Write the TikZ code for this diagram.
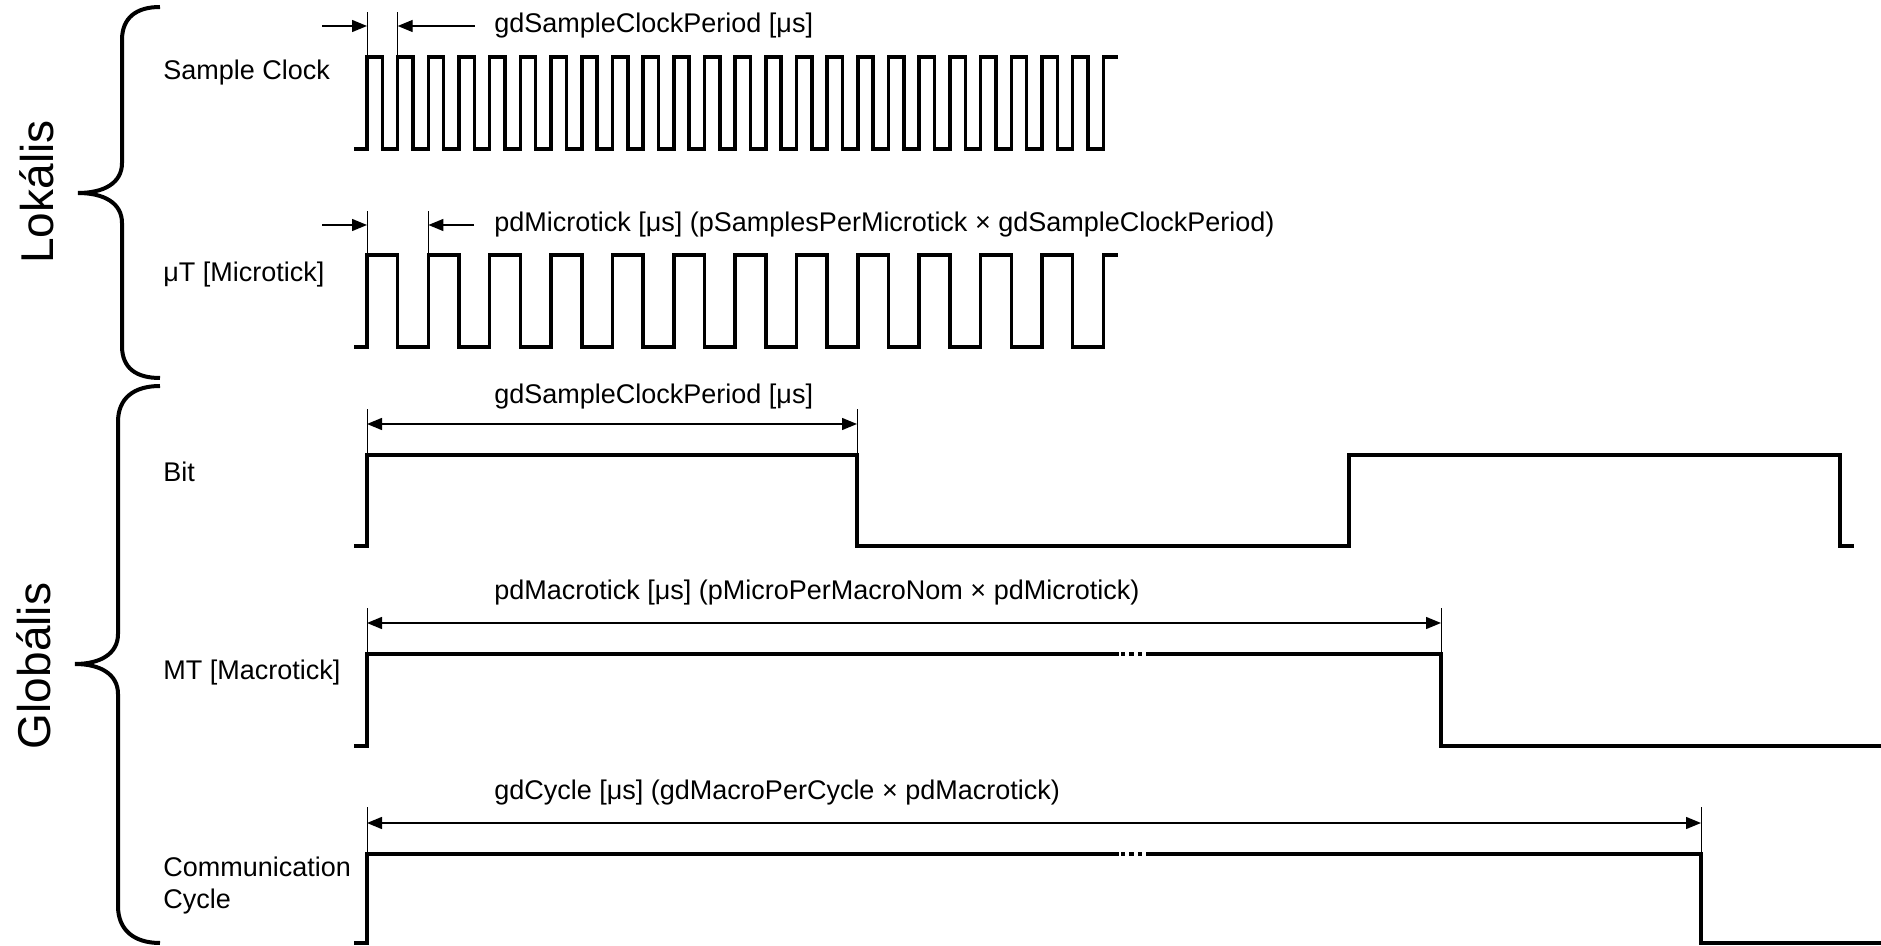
\documentclass[tikz,border=0pt]{standalone}
\usepackage{fontspec}
\setmainfont{Liberation Sans}
\usetikzlibrary{arrows.meta}

\begin{document}
\begin{tikzpicture}[x=0.5pt,y=-0.5pt,font=\fontsize{13.5}{16}\selectfont,
   sig/.style={line width=1.75pt},
   ext/.style={line width=0.5pt},
   dimarr/.style={line width=0.7pt,-{Triangle[length=7.5pt,width=6pt]}},
   dimboth/.style={line width=0.7pt,{Triangle[length=7.5pt,width=6pt]}-{Triangle[length=7.5pt,width=6pt]}},
   brc/.style={line width=2pt},
   gapdots/.style={line width=2.15pt,dash pattern=on 2.15pt off 2.05pt},
   sigl/.style={anchor=west,inner sep=0pt},
   diml/.style={anchor=west,inner sep=0pt},
   grp/.style={rotate=90,inner sep=0pt,font=\fontsize{23}{27}\selectfont}]
  \useasboundingbox (0,0) rectangle (1881,946);

  % groups
  \draw[brc] (160,7) .. controls (136,7) and (122,18) .. (122,40) -- (122,163)
     .. controls (122,183) and (104,193) .. (78,193) .. controls (104,193) and (122,203) .. (122,223)
     -- (122,346) .. controls (122,368) and (136,378) .. (160,378);
  \draw[brc] (160,386) .. controls (134,386) and (118,398) .. (118,422) -- (118,634)
     .. controls (118,654) and (100,664) .. (75,664) .. controls (100,664) and (118,674) .. (118,694)
     -- (118,906) .. controls (118,930) and (134,943) .. (160,943);
  \node[grp] (lok) at (37,192) {Lokális};
  \node[grp] (glob) at (34,666) {Globális};

  % signal names
  \node[sigl] (lsc) at (163,73) {Sample Clock};
  \node[sigl] (lut) at (163,275) {μT [Microtick]};
  \node[sigl] (lbit) at (163,472) {Bit};
  \node[sigl] (lmt) at (163,673) {MT [Macrotick]};
  \node[sigl,align=left] (lcc) at (163,886) {Communication\\Cycle};

  % waveforms
  \draw[sig] (354,149) -- (367,149) foreach \k in {1,...,24}{ -- ++(0,-92) -- ++(15.34,0) -- ++(0,92) -- ++(15.34,0)}
     -- ++(0,-92) -- (1118,57);
  \draw[sig] (354,347) -- (367,347) foreach \k in {1,...,12}{ -- ++(0,-92) -- ++(30.68,0) -- ++(0,92) -- ++(30.68,0)}
     -- ++(0,-92) -- (1118,255);
  \draw[sig] (354,546) -- (367,546) -- (367,455) -- (857,455) -- (857,546) -- (1349,546)
     -- (1349,455) -- (1840,455) -- (1840,546) -- (1854,546);
  \draw[sig] (354,746) -- (367,746) -- (367,654) -- (1119,654);
  \draw[gapdots] (1121,654) -- (1151,654);
  \draw[sig] (1150,654) -- (1441,654) -- (1441,746) -- (1881,746);
  \draw[sig] (354,943) -- (367,943) -- (367,854) -- (1119,854);
  \draw[gapdots] (1121,854) -- (1151,854);
  \draw[sig] (1150,854) -- (1701,854) -- (1701,943) -- (1881,943);

  % measured edges
  \coordinate (sc1) at (367,57);
  \coordinate (sc2) at (397.7,57);
  \coordinate (ut1) at (367,255);
  \coordinate (ut2) at (428.4,255);
  \coordinate (bit1) at (367,455);
  \coordinate (bit2) at (857,455);
  \coordinate (mt1) at (367,654);
  \coordinate (mt2) at (1441,654);
  \coordinate (cc1) at (367,854);
  \coordinate (cc2) at (1701,854);

  \draw[ext] (sc1) -- ++(0,-45) (sc2) -- ++(0,-45);
  \draw[ext] (ut1) -- ++(0,-44) (ut2) -- ++(0,-44);
  \draw[ext] (bit1) -- ++(0,-46) (bit2) -- ++(0,-46);
  \draw[ext] (mt1) -- ++(0,-46) (mt2) -- ++(0,-46);
  \draw[ext] (cc1) -- ++(0,-47) (cc2) -- ++(0,-47);

  \draw[dimarr] ([xshift=-22.5pt,yshift=15.5pt]sc1) -- ([yshift=15.5pt]sc1);
  \draw[dimarr] ([xshift=38.5pt,yshift=15.5pt]sc2) -- ([yshift=15.5pt]sc2);
  \draw[dimarr] ([xshift=-22.5pt,yshift=15pt]ut1) -- ([yshift=15pt]ut1);
  \draw[dimarr] ([xshift=22.8pt,yshift=15pt]ut2) -- ([yshift=15pt]ut2);
  \draw[dimboth] ([yshift=15.5pt]bit1) -- ([yshift=15.5pt]bit2);
  \draw[dimboth] ([yshift=15.5pt]mt1) -- ([yshift=15.5pt]mt2);
  \draw[dimboth] ([yshift=15.5pt]cc1) -- ([yshift=15.5pt]cc2);

  % dimension texts
  \node[diml] (dsc) at (494,26) {gdSampleClockPeriod [μs]};
  \node[diml] (dut) at (494,225) {pdMicrotick [μs] (pSamplesPerMicrotick × gdSampleClockPeriod)};
  \node[diml] (dbit) at (494,397) {gdSampleClockPeriod [μs]};
  \node[diml] (dmt) at (494,593) {pdMacrotick [μs] (pMicroPerMacroNom × pdMicrotick)};
  \node[diml] (dcc) at (494,793) {gdCycle [μs] (gdMacroPerCycle × pdMacrotick)};
\end{tikzpicture}
\end{document}
